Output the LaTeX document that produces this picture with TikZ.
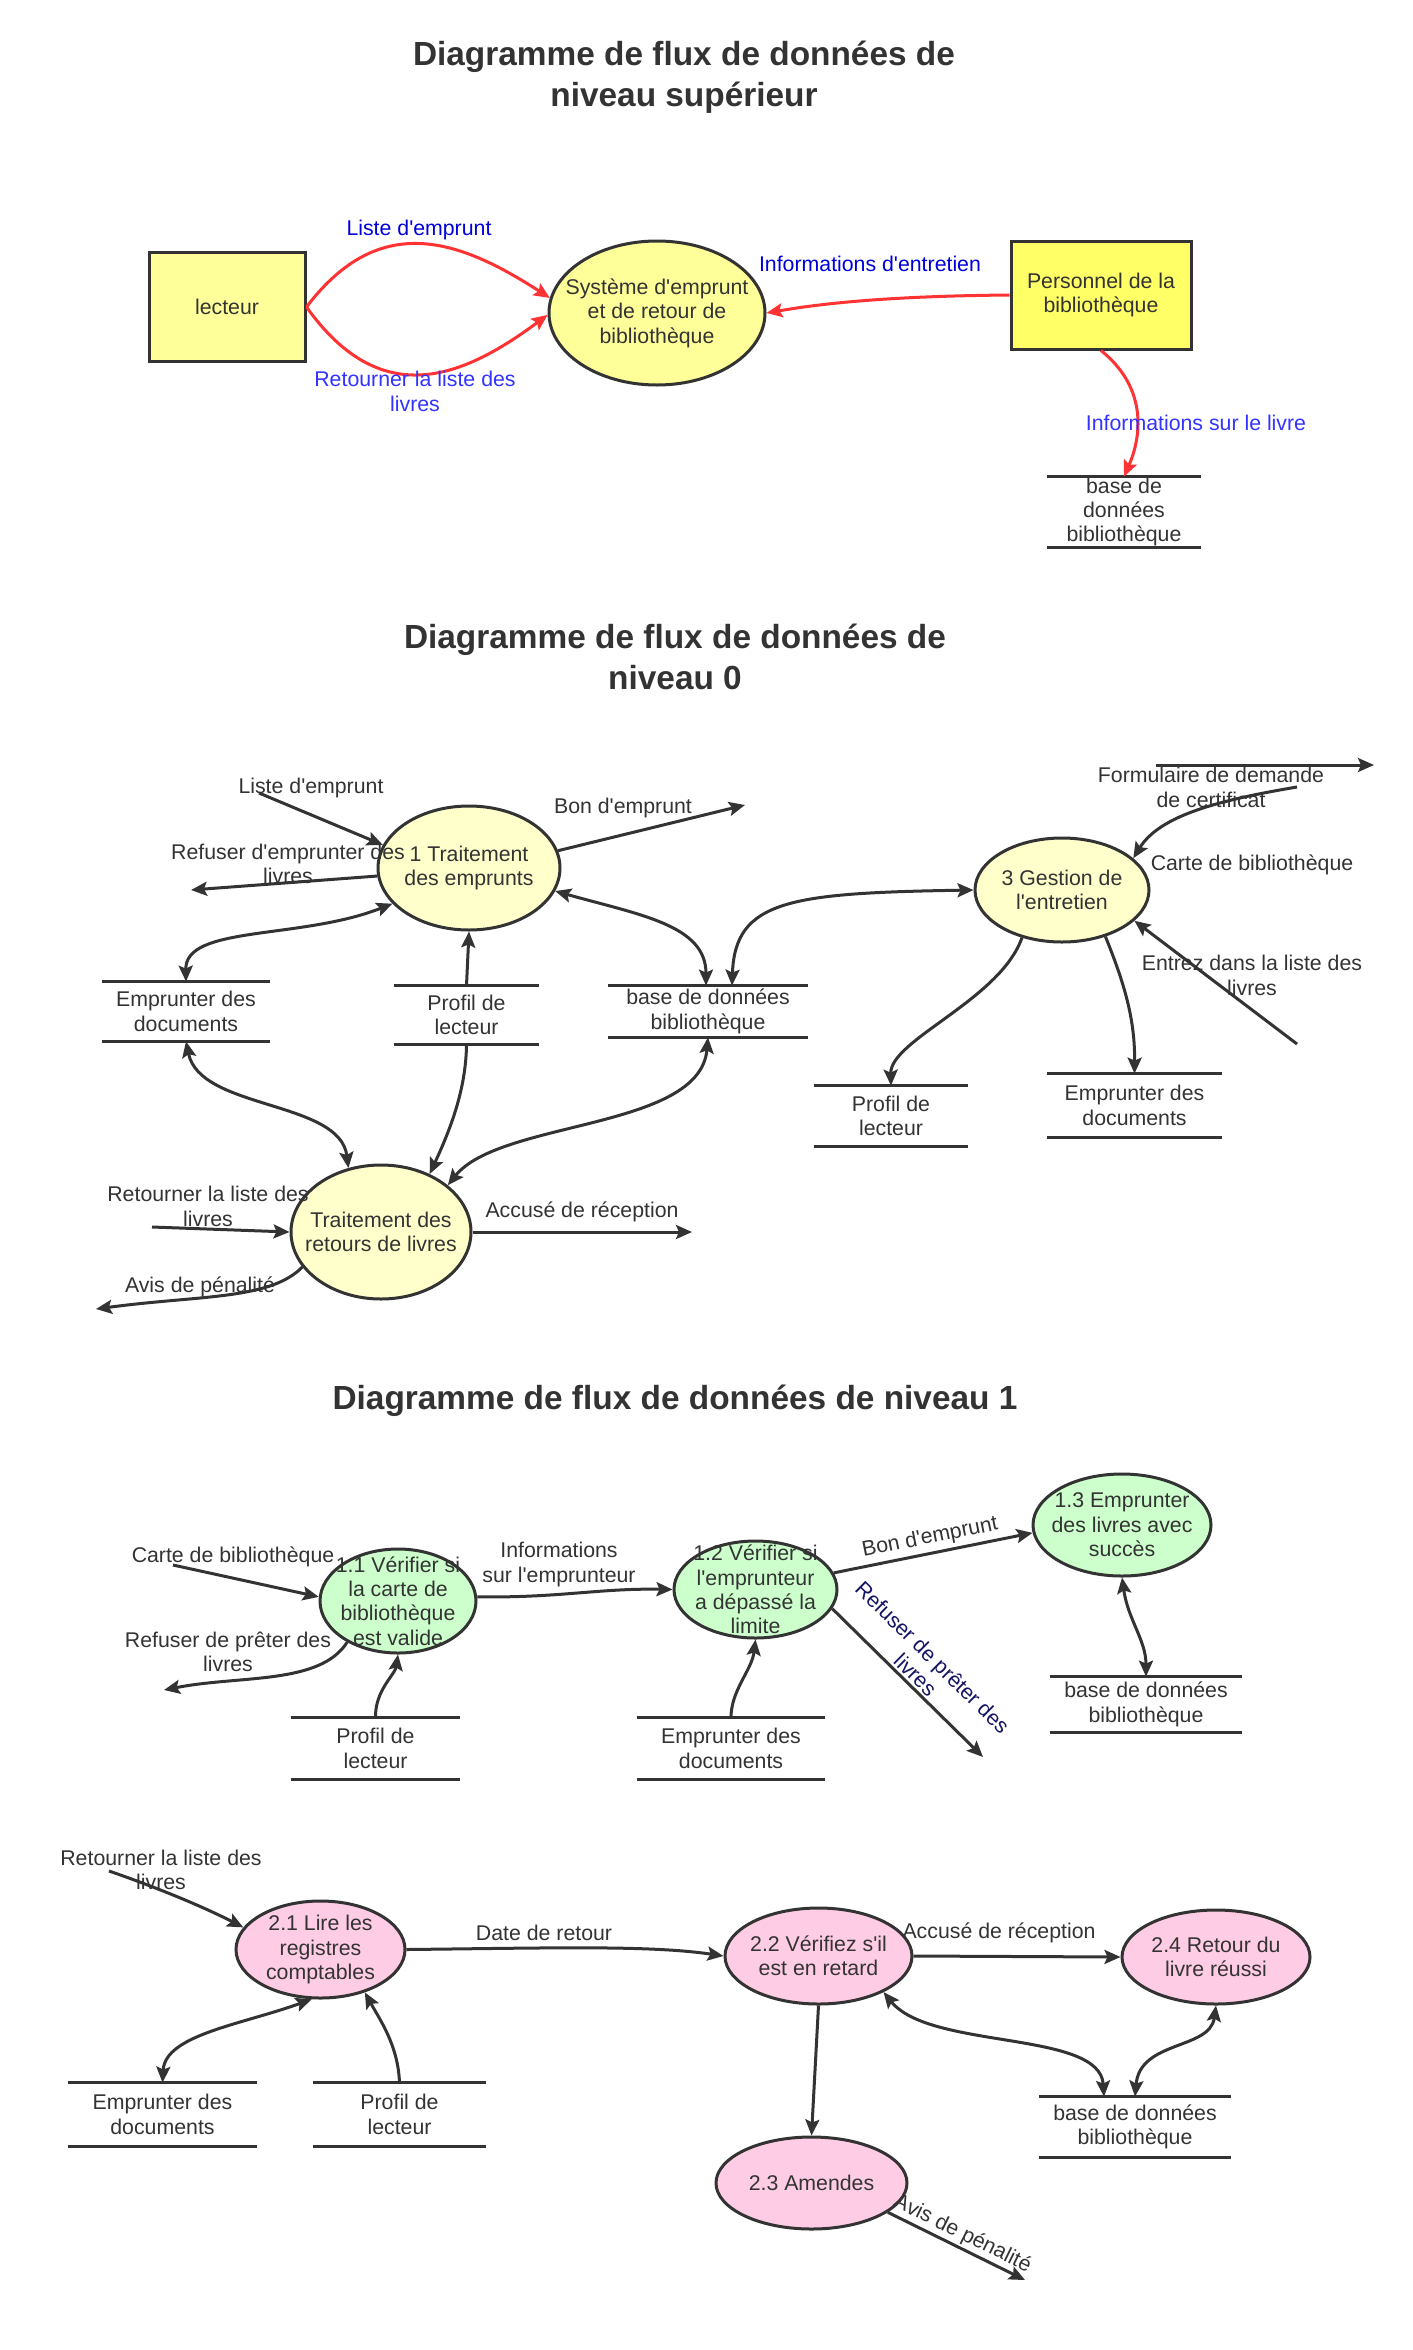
\documentclass[tikz,border=0pt]{standalone}
\usepackage{fontspec}
\setmainfont{Liberation Sans}
\newfontfamily\libsans{Liberation Sans}
\usetikzlibrary{arrows.meta,shapes.geometric}
\definecolor{lc}{HTML}{333333}
\definecolor{redc}{HTML}{FF3333}
\definecolor{blueA}{HTML}{0000DD}
\definecolor{blueB}{HTML}{3333FF}
\definecolor{navy}{HTML}{141464}
\definecolor{boxy}{HTML}{FFFF99}
\definecolor{persy}{HTML}{FFFF66}
\definecolor{lzy}{HTML}{FFFFCC}
\definecolor{grn}{HTML}{CCFFCC}
\definecolor{pnk}{HTML}{FFCCE6}
\newcommand{\bodyfont}{\libsans\fontsize{10.65}{12.2}\selectfont}
\newcommand{\titlefont}{\libsans\fontsize{16.7}{20.5}\selectfont\bfseries}
\newcommand{\storelines}[1]{\draw[storeline] (#1.north west) -- (#1.north east) (#1.south west) -- (#1.south east);}
\tikzset{
  proc/.style={ellipse, draw=lc, line width=1.5pt, inner sep=0pt},
  ext/.style={rectangle, draw=lc, line width=1.5pt, inner sep=0pt, align=center, font=\bodyfont, text=lc},
  store/.style={inner sep=0pt},
  lab/.style={inner sep=0pt, align=center, font=\bodyfont, text=lc},
  ttl/.style={inner sep=0pt, align=center, font=\titlefont, text=lc},
  storeline/.style={draw=lc, line width=1.5pt},
  flow/.style={draw=lc, line width=1.5pt, ->},
  flowb/.style={draw=lc, line width=1.5pt, <->},
  rflow/.style={draw=redc, line width=1.5pt, ->},
}
\begin{document}
\begin{tikzpicture}[x=0.5pt,y=-0.5pt,>={Stealth[length=8pt,width=7pt,inset=1.5pt]}]
\fill[white] (0,0) rectangle (1413,2350);
\useasboundingbox (0,0) rectangle (1413,2350);

%% ---------------- top level ----------------
\node[ttl] (t1) at (684,77.5) {Diagramme de flux de données de\\niveau supérieur};
\node[ext, fill=boxy, minimum width=78pt, minimum height=54.5pt] (lect) at (227,307) {lecteur};
\node[proc, fill=boxy, minimum width=108pt, minimum height=72pt,
  label={[lab]center:{Système d'emprunt\\et de retour de\\bibliothèque}}] (sys) at (657,313) {};
\node[ext, fill=persy, minimum width=90pt, minimum height=54pt] (pers) at (1101,295) {Personnel de la\\bibliothèque};
\node[store, minimum width=76.5pt, minimum height=35pt,
  label={[lab]center:{base de\\données\\bibliothèque}}] (db0) at (1124,512) {};
\storelines{db0}

\draw[rflow] (lect.east) .. controls (380,210) and (460,240) .. (sys.172);
\draw[rflow] (lect.east) .. controls (380,410) and (460,380) .. (sys.181);
\draw[rflow] (pers.west) .. controls (900,296) and (830,302) .. (sys.east);
\draw[rflow] (pers.south) .. controls (1150,390) and (1140,440) .. (db0.north);

\node[lab, text=blueA] (lt1) at (419,230) {Liste d'emprunt};
\node[lab, text=blueB] (lt2) at (415,391.5) {Retourner la liste des\\livres};
\node[lab, text=blueA] (lt3) at (870,264) {Informations d'entretien};
\node[lab, text=blueB] (lt4) at (1196,423) {Informations sur le livre};

%% ---------------- level 0 ----------------
\node[ttl] (t2) at (675,657) {Diagramme de flux de données de\\niveau 0};
\node[proc, fill=lzy, minimum width=91pt, minimum height=62pt,
  label={[lab]center:{1 Traitement\\des emprunts}}] (p1) at (469,868) {};
\node[proc, fill=lzy, minimum width=87pt, minimum height=52pt,
  label={[lab]center:{3 Gestion de\\l'entretien}}] (p3) at (1062,890) {};
\node[proc, fill=lzy, minimum width=90pt, minimum height=67pt,
  label={[lab]center:{Traitement des\\retours de livres}}] (p2) at (381,1232) {};

\node[store, minimum width=83.5pt, minimum height=29.5pt,
  label={[lab]center:{Emprunter des\\documents}}] (s_ed) at (186,1011.5) {};
\node[store, minimum width=72.5pt, minimum height=29pt,
  label={[lab]center:{Profil de\\lecteur}}] (s_pl) at (466.5,1015) {};
\node[store, minimum width=100pt, minimum height=25.5pt,
  label={[lab]center:{base de données\\bibliothèque}}] (s_db) at (708,1011.5) {};
\node[store, minimum width=77pt, minimum height=30pt,
  label={[lab]center:{Profil de\\lecteur}}] (s_pr) at (891,1116) {};
\node[store, minimum width=87.5pt, minimum height=31.5pt,
  label={[lab]center:{Emprunter des\\documents}}] (s_er) at (1134.5,1105.5) {};
\storelines{s_ed}\storelines{s_pl}\storelines{s_db}\storelines{s_pr}\storelines{s_er}

\coordinate (c_a) at (259,793);
\coordinate (c_b) at (745,805);
\coordinate (c_c) at (191,890);
\coordinate (c_h) at (1297,787);
\coordinate (c_i1) at (1156,765);
\coordinate (c_i2) at (1374,765);
\coordinate (c_j) at (1297,1044);
\coordinate (c_p) at (152,1227);
\coordinate (c_q) at (692,1232);
\coordinate (c_r) at (96,1309);

\draw[flow] (c_a) -- (p1.165);
\draw[flow] (p1.11) -- (c_b);
\draw[flow] (p1.185) -- (c_c);
\draw[flowb] (s_ed.north) .. controls (185,925) and (300,940) .. (p1.205);
\draw[flow] (s_pl.north) -- (p1.south);
\draw[flowb] (p1.-15) .. controls (640,915) and (706,925) .. ([xshift=-1pt]s_db.north);
\draw[flowb] ([xshift=12pt]s_db.north) .. controls (735,900) and (790,893) .. (p3.west);
\draw[flow] (c_h) .. controls (1220,800) and (1160,815) .. (p3.24);
\draw[flow] (c_i1) -- (c_i2);
\draw[flow] (c_j) -- (p3.-23);
\draw[flow] (p3.230) .. controls (1000,1000) and (890,1040) .. (s_pr.north);
\draw[flow] (p3.-47) .. controls (1125,985) and (1135,1020) .. (s_er.north);
\draw[flowb] (s_ed.south) .. controls (200,1110) and (340,1100) .. (p2.117);
\draw[flow] (s_pl.south) .. controls (466,1090) and (450,1130) .. (p2.50);
\draw[flowb] (s_db.south) .. controls (700,1130) and (500,1120) .. (p2.35);
\draw[flow] (c_p) -- (p2.west);
\draw[flow] (p2.east) -- (c_q);
\draw[flow] (p2.204) .. controls (270,1300) and (200,1295) .. (c_r);

\node[lab] (l0a) at (311,788) {Liste d'emprunt};
\node[lab] (l0b) at (623,808) {Bon d'emprunt};
\node[lab] (l0c) at (288,864) {Refuser d'emprunter des\\livres};
\node[lab] (l0d) at (1211,787.5) {Formulaire de demande\\de certificat};
\node[lab] (l0e) at (1252,865) {Carte de bibliothèque};
\node[lab] (l0f) at (1252,975.5) {Entrez dans la liste des\\livres};
\node[lab] (l0g) at (208,1206.5) {Retourner la liste des\\livres};
\node[lab] (l0h) at (582,1212) {Accusé de réception};
\node[lab] (l0i) at (200,1287) {Avis de pénalité};

%% ---------------- level 1 ----------------
\node[ttl] (t3) at (675,1401) {Diagramme de flux de données de niveau 1};
\node[proc, fill=grn, minimum width=78pt, minimum height=52pt,
  label={[lab]center:{1.1 Vérifier si\\la carte de\\bibliothèque\\est valide}}] (q11) at (398,1601) {};
\node[proc, fill=grn, minimum width=81.5pt, minimum height=48.5pt,
  label={[lab]center:{1.2 Vérifier si\\l'emprunteur\\a dépassé la\\limite}}] (q12) at (755.5,1589.5) {};
\node[proc, fill=grn, minimum width=89pt, minimum height=51pt,
  label={[lab]center:{1.3 Emprunter\\des livres avec\\succès}}] (q13) at (1122,1525) {};
\node[store, minimum width=96pt, minimum height=27.5pt,
  label={[lab]center:{base de données\\bibliothèque}}] (t_db) at (1146,1704.5) {};
\node[store, minimum width=84.5pt, minimum height=30.5pt,
  label={[lab]center:{Profil de\\lecteur}}] (t_pl) at (375.5,1748.5) {};
\node[store, minimum width=94pt, minimum height=30.5pt,
  label={[lab]center:{Emprunter des\\documents}}] (t_ed) at (731,1748.5) {};
\storelines{t_db}\storelines{t_pl}\storelines{t_ed}

\coordinate (d_a) at (173,1565);
\coordinate (d_b) at (164,1690);
\coordinate (d_g) at (983,1757);

\draw[flow] (d_a) -- (q11.177);
\draw[flow] (q11.219) .. controls (320,1685) and (240,1675) .. (d_b);
\draw[flow] (t_pl.north) .. controls (375,1690) and (395,1675) .. (q11.south);
\draw[flow] (q11.3) .. controls (560,1598) and (600,1588) .. (q12.west);
\draw[flow] (t_ed.north) .. controls (731,1690) and (752,1670) .. (q12.south);
\draw[flow] (q12.12) -- node[midway, sloped, above, inner sep=2pt, font=\bodyfont, text=lc] (l1b) {Bon d'emprunt} (q13.185);
\draw[flow] (q12.-14) -- node[midway, sloped, above, inner sep=1pt, font=\bodyfont, text=navy, align=center] (l1r) {Refuser de prêter des\\livres} (d_g);
\draw[flowb] (q13.south) .. controls (1128,1620) and (1146,1640) .. (t_db.north);

\node[lab] (l1a) at (233,1557) {Carte de bibliothèque};
\node[lab] (l1c) at (228,1652) {Refuser de prêter des\\livres};
\node[lab] (l1d) at (559,1564.5) {Informations\\sur l'emprunteur};

%% ---------------- level 2 ----------------
\node[proc, fill=pnk, minimum width=84.5pt, minimum height=48.5pt,
  label={[lab]center:{2.1 Lire les\\registres\\comptables}}] (r21) at (320.5,1949.5) {};
\node[proc, fill=pnk, minimum width=93.5pt, minimum height=48pt,
  label={[lab]center:{2.2 Vérifiez s'il\\est en retard}}] (r22) at (818.5,1956) {};
\node[proc, fill=pnk, minimum width=94pt, minimum height=47pt,
  label={[lab]center:{2.4 Retour du\\livre réussi}}] (r24) at (1216,1957) {};
\node[proc, fill=pnk, minimum width=95.5pt, minimum height=46pt,
  label={[lab]center:{2.3 Amendes}}] (r23) at (811.5,2183) {};
\node[store, minimum width=94.5pt, minimum height=31.5pt,
  label={[lab]center:{Emprunter des\\documents}}] (u_ed) at (162.5,2114.5) {};
\node[store, minimum width=86.5pt, minimum height=31.5pt,
  label={[lab]center:{Profil de\\lecteur}}] (u_pl) at (399.5,2114.5) {};
\node[store, minimum width=96pt, minimum height=30pt,
  label={[lab]center:{base de données\\bibliothèque}}] (u_db) at (1135,2127) {};
\storelines{u_ed}\storelines{u_pl}\storelines{u_db}

\coordinate (e_a) at (109,1871);
\coordinate (e_i) at (1025,2280);

\draw[flow] (e_a) .. controls (150,1885) and (200,1905) .. (r21.164);
\draw[flow] (r21.east) .. controls (550,1948) and (650,1945) .. (r22.west);
\draw[flowb] (u_ed.north) .. controls (165,2035) and (240,2025) .. (r21.260);
\draw[flow] (u_pl.north) .. controls (398,2045) and (380,2020) .. (r21.-44);
\draw[flow] (r22.east) -- (r24.west);
\draw[flowb] (r22.-29) .. controls (930,2050) and (1100,2030) .. ([xshift=-15.5pt]u_db.north);
\draw[flowb] (r24.south) .. controls (1210,2050) and (1140,2040) .. (u_db.north);
\draw[flow] (r22.south) -- (r23.north);
\draw[flow] (r23.-21) -- node[midway, sloped, above, inner sep=1pt, font=\bodyfont, text=lc] (l2e) {Avis de pénalité} (e_i);

\node[lab] (l2a) at (161,1870) {Retourner la liste des\\livres};
\node[lab] (l2b) at (544,1933) {Date de retour};
\node[lab] (l2c) at (999,1933) {Accusé de réception};
\end{tikzpicture}
\end{document}
